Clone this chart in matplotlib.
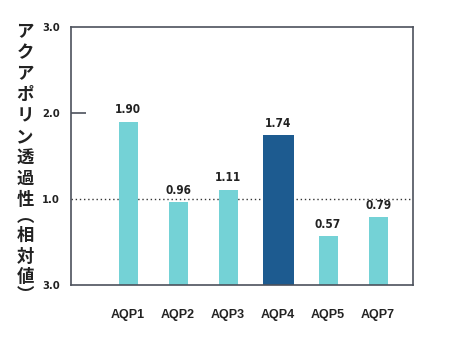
import matplotlib
matplotlib.use("Agg")
import matplotlib.pyplot as plt

# relative aquaporin permeability
names = ["AQP1", "AQP2", "AQP3", "AQP4", "AQP5", "AQP7"]
values = [1.90, 0.96, 1.11, 1.74, 0.57, 0.79]
highlight = "AQP4"
ytick_vals = [0, 1, 2, 3]
ytick_labels = ["3.0", "1.0", "2.0", "3.0"]
ylabel = "アクアポリン透過性︵相対値︶"

light = "#74d2d6"
dark = "#1d5b90"
edge = "#4d525c"

W, H = 450, 338
fig = plt.figure(figsize=(W / 100, H / 100), dpi=100)
ax = fig.add_axes([0.158, 0.157, 0.76, 0.763])

xs = list(range(len(names)))
widths = [0.62 if n == highlight else 0.38 for n in names]
colors = [dark if n == highlight else light for n in names]
ax.bar(xs, values, width=widths, color=colors, zorder=2)

num_font = dict(family="DejaVu Sans", fontstretch="condensed",
                fontweight="bold", color="#222222")
for x, v in zip(xs, values):
    ax.text(x, v + 0.06, f"{v:.2f}", ha="center", va="bottom",
            fontsize=8.5, **num_font)

# reference line at 1.0
ax.axhline(1.0, color="#333333", lw=1, linestyle=(0, (1, 2)), zorder=1)

ax.set_xlim(-1.14, 5.7)
ax.set_ylim(0, 3)
ax.set_xticks(xs)
ax.set_xticklabels(names, fontsize=9, fontweight="bold",
                   family="Liberation Sans", color="#222222")
ax.set_yticks(ytick_vals)
ax.set_yticklabels(ytick_labels, fontsize=8, **num_font)
ax.tick_params(axis="x", length=0, pad=17)
ax.tick_params(axis="y", direction="in", length=11, width=1.2,
               color=edge, pad=8)
for i, t in enumerate(ax.yaxis.get_major_ticks()):
    if ytick_vals[i] != 2:
        t.tick1line.set_visible(False)

for s in ax.spines.values():
    s.set_color(edge)
    s.set_linewidth(1.2)

# vertical axis title, one character per line
y = 32
for ch in ylabel:
    paren = ch in "︵︶"
    if paren:
        y -= 3
    fig.text(25 / W, 1 - y / H, ch, ha="center", va="center",
             fontsize=12.5, fontweight="bold",
             family=["Noto Sans CJK JP", "DejaVu Sans"], color="#222222")
    y += 17.5 if paren else 21

fig.savefig("out.png", dpi=100)
